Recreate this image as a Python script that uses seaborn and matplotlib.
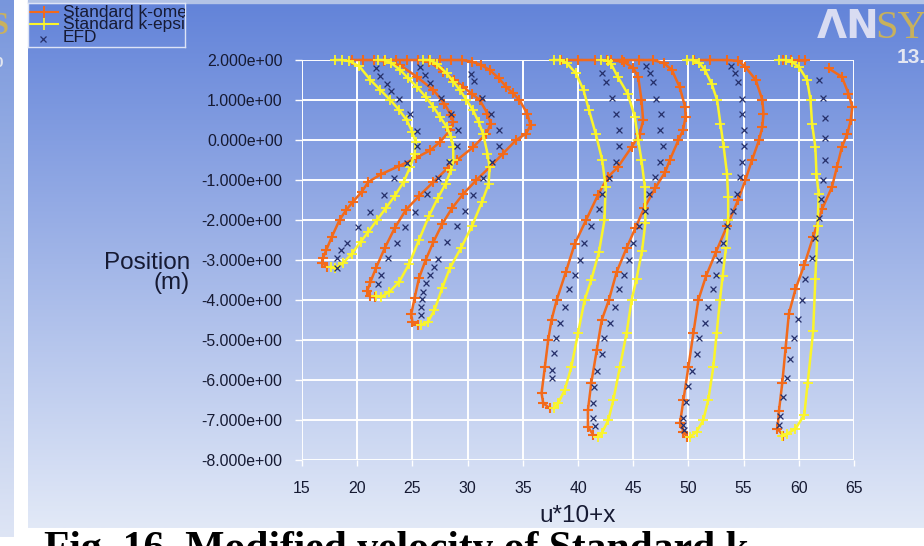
import numpy as np
import pandas as pd
import seaborn as sns
import matplotlib
matplotlib.use("Agg")
from matplotlib import pyplot as plt
from matplotlib.ticker import FormatStrFormatter
from matplotlib.patches import Rectangle

# ---- data: (u*10+x, position) for each station ----
k_omega = {
    "p1": ([19.5, 20.5, 21.5, 22.4, 23.9, 25.4, 26.9, 27.9, 28.5, 28.7, 28.4, 27.5, 26.6, 25.3, 23.8,
            22.2, 21.0, 20.4, 19.6, 19.0, 18.4, 17.7, 17.2, 16.9, 16.85, 17.3],
           [2.0, 2.0, 2.0, 1.97, 1.87, 1.58, 1.25, 0.91, 0.62, 0.45, 0.24, -0.05, -0.26, -0.45, -0.65,
            -0.85, -1.05, -1.3, -1.55, -1.75, -2.0, -2.42, -2.75, -2.95, -3.08, -3.17]),
    "p2": ([22.5, 23.5, 24.5, 25.5, 26.5, 27.8, 28.8, 29.6, 30.4, 31.1, 31.8, 32.1, 31.7, 30.5, 29.0,
            28.2, 26.9, 25.6, 24.4, 23.4, 22.5, 21.7, 21.2, 20.9, 21.2, 21.6],
           [2.0, 2.0, 2.0, 2.0, 1.96, 1.71, 1.5, 1.33, 1.15, 1.0, 0.66, 0.41, 0.16, -0.18, -0.51,
            -0.7, -1.05, -1.4, -1.75, -2.2, -2.7, -3.2, -3.55, -3.78, -3.9, -3.93]),
    "p3": ([26.5, 27.5, 28.5, 29.5, 30.4, 31.2, 32.0, 32.8, 33.5, 34.1, 34.7, 35.4, 35.7, 35.3, 34.4,
            33.2, 32.0, 30.8, 29.6, 28.6, 27.7, 26.9, 26.2, 25.6, 25.2, 24.9, 25.0, 25.5],
           [2.0, 2.0, 2.0, 2.0, 1.96, 1.88, 1.75, 1.55, 1.33, 1.17, 1.0, 0.66, 0.37, 0.16, 0.0,
            -0.34, -0.68, -1.0, -1.35, -1.7, -2.1, -2.55, -3.0, -3.45, -3.95, -4.35, -4.55, -4.62]),
    "p4": ([38.5, 40.0, 41.5, 43.0, 44.2, 45.0, 45.45, 45.75, 45.9, 45.6, 44.85, 43.6, 42.7, 41.8, 40.75,
            39.7, 38.9, 38.07, 37.6, 37.3, 37.0, 36.7, 36.85, 37.46],
           [2.0, 2.0, 2.0, 2.0, 1.95, 1.8, 1.58, 1.0, 0.49, 0.16, -0.18, -0.68, -0.93, -1.38, -1.99,
            -2.6, -3.3, -4.0, -4.5, -5.0, -5.67, -6.33, -6.58, -6.71]),
    "p5": ([42.6, 44.0, 45.5, 46.8, 47.8, 48.5, 49.2, 49.7, 49.75, 49.5, 49.1, 48.3, 47.9, 47.0, 46.0,
            45.2, 44.4, 43.5, 42.8, 42.15, 41.7, 41.2, 40.9, 40.9, 41.4],
           [2.0, 2.0, 2.0, 2.0, 1.92, 1.75, 1.33, 0.83, 0.58, 0.24, 0.0, -0.51, -0.8, -1.2, -1.7,
            -2.2, -2.7, -3.3, -4.0, -4.5, -5.25, -6.08, -6.75, -7.17, -7.38]),
    "p6": ([50.5, 52.0, 53.5, 54.5, 55.15, 56.1, 56.7, 56.8, 56.7, 56.4, 55.75, 55.15, 54.5, 53.5, 52.5,
            51.6, 50.9, 50.45, 50.0, 49.55, 49.24, 49.55, 49.85],
           [2.0, 2.0, 2.0, 1.98, 1.83, 1.5, 1.0, 0.66, 0.33, 0.0, -0.51, -1.01, -1.5, -2.15, -2.8,
            -3.4, -4.0, -4.83, -5.67, -6.5, -7.08, -7.29, -7.42]),
    "p7a": ([58.6, 59.3, 60.0, 60.6], [2.0, 2.0, 2.0, 2.0]),
    "p7b": ([62.7, 63.9, 64.5, 64.85, 64.7, 64.4, 63.9, 63.45, 63.0, 62.1, 61.3, 60.5, 59.7, 59.1, 58.8,
             58.5, 58.2, 58.07, 58.6],
            [1.79, 1.58, 1.16, 0.83, 0.49, 0.16, -0.18, -0.68, -1.18, -1.73, -2.42, -3.12, -3.73, -4.34, -5.21,
             -6.08, -6.78, -7.22, -7.39]),
}

k_eps = {
    "p1": ([18.0, 18.6, 19.3, 20.2, 21.2, 22.1, 23.0, 23.8, 24.5, 25.0, 25.3, 25.2, 24.8, 24.2, 23.4,
            22.6, 21.8, 21.0, 20.3, 19.5, 18.7, 18.0, 17.6],
           [2.0, 2.0, 1.97, 1.84, 1.5, 1.25, 1.0, 0.75, 0.49, 0.2, -0.05, -0.34, -0.67, -1.05, -1.4,
            -1.7, -2.0, -2.3, -2.55, -2.85, -3.08, -3.2, -3.17]),
    "p2": ([21.9, 22.5, 23.1, 23.9, 24.6, 25.4, 26.2, 26.9, 27.5, 28.1, 28.5, 28.7, 28.7, 28.5, 28.0,
            27.3, 26.5, 25.6, 24.7, 23.8, 22.9, 22.2, 21.7],
           [2.0, 2.0, 1.92, 1.75, 1.55, 1.33, 1.08, 0.83, 0.58, 0.33, 0.08, -0.18, -0.51, -0.75, -1.1,
            -1.45, -1.9, -2.5, -3.1, -3.55, -3.8, -3.92, -3.9]),
    "p3": ([26.0, 26.6, 27.2, 28.1, 28.7, 29.3, 29.9, 30.5, 31.0, 31.4, 31.8, 32.0, 31.9, 31.3, 30.4,
            29.4, 28.4, 27.7, 27.0, 26.4, 25.8],
           [2.0, 2.0, 1.9, 1.67, 1.46, 1.25, 1.0, 0.74, 0.45, 0.16, -0.34, -0.68, -1.1, -1.55, -2.15,
            -2.7, -3.2, -3.7, -4.25, -4.55, -4.62]),
    "p4": ([37.8, 38.4, 39.0, 39.8, 40.5, 41.0, 41.6, 42.2, 42.5, 42.4, 41.9, 41.2, 40.6, 40.0, 39.4,
            38.8, 38.2, 37.8],
           [2.0, 2.0, 1.92, 1.67, 1.25, 0.74, 0.16, -0.51, -1.18, -2.0, -2.8, -3.5, -4.0, -4.83, -5.67,
            -6.25, -6.58, -6.71]),
    "p5": ([42.1, 42.7, 43.0, 43.6, 44.5, 45.15, 45.45, 45.75, 46.06, 46.1, 45.8, 45.3, 44.86, 44.4, 43.8,
            43.2, 42.75, 42.15, 41.8],
           [2.0, 1.98, 1.9, 1.58, 1.16, 0.58, 0.0, -0.51, -1.18, -2.08, -2.77, -3.47, -4.0, -4.83, -5.67,
            -6.5, -7.0, -7.33, -7.42]),
    "p6": ([49.85, 50.4, 51.0, 51.5, 52.1, 52.6, 52.9, 53.2, 53.5, 53.6, 53.6, 53.4, 53.1, 52.86, 52.56,
            52.26, 51.8, 51.35, 50.75, 50.15],
           [2.0, 2.0, 1.92, 1.75, 1.41, 1.0, 0.41, -0.18, -0.85, -1.43, -2.0, -2.7, -3.4, -4.0, -4.83,
            -5.67, -6.5, -7.0, -7.29, -7.42]),
    "p7": ([58.2, 58.8, 59.4, 60.0, 60.75, 61.06, 61.2, 61.5, 61.6, 61.8, 61.7, 61.5, 61.3, 60.8, 60.5,
            59.7, 58.9, 58.5],
           [2.0, 2.0, 1.95, 1.83, 1.5, 1.0, 0.41, -0.18, -0.85, -1.35, -2.16, -3.47, -4.78, -6.08, -6.87,
            -7.22, -7.35, -7.4]),
}

efd = {
    "p1": ([21.7, 22.1, 22.7, 23.1, 23.8, 24.8, 25.45, 25.45, 24.5, 23.3, 22.4, 21.2, 20.1, 19.1, 18.5,
            18.2, 18.2],
           [1.79, 1.6, 1.41, 1.22, 1.02, 0.64, 0.23, -0.15, -0.57, -0.95, -1.37, -1.79, -2.17, -2.57, -2.75,
            -2.96, -3.21]),
    "p2": ([25.7, 26.1, 26.6, 27.6, 28.5, 29.1, 29.0, 28.3, 27.3, 26.3, 25.2, 24.3, 23.6, 22.8, 22.2, 21.9],
           [1.83, 1.62, 1.43, 1.05, 0.64, 0.26, -0.16, -0.55, -0.95, -1.36, -1.79, -2.17, -2.58, -2.96, -3.38, -3.6]),
    "p3": ([30.3, 30.6, 31.3, 32.1, 32.8, 32.8, 32.2, 31.4, 30.5, 29.8, 29.0, 28.1, 27.3, 27.0, 26.6,
            26.2, 26.0, 25.9, 25.8, 25.75],
           [1.64, 1.47, 1.05, 0.64, 0.26, -0.15, -0.55, -0.95, -1.37, -1.77, -2.16, -2.54, -2.98, -3.18, -3.38,
            -3.58, -3.79, -3.98, -4.17, -4.38]),
    "p4": ([42.2, 42.5, 43.1, 43.4, 43.7, 43.7, 43.4, 42.8, 42.2, 41.9, 41.2, 40.5, 40.2, 39.7, 39.15,
            38.8, 38.4, 38.0, 37.8, 37.6, 37.6],
           [1.67, 1.46, 1.05, 0.64, 0.26, -0.15, -0.55, -0.95, -1.35, -1.73, -2.16, -2.57, -3.0, -3.38, -3.73,
            -4.17, -4.57, -4.96, -5.33, -5.75, -5.96]),
    "p5": ([46.2, 46.5, 46.75, 47.1, 47.5, 47.4, 47.7, 47.4, 47.0, 46.4, 46.1, 45.5, 45.0, 44.6, 44.2,
            43.7, 43.35, 42.9, 42.35, 42.15, 41.7, 41.45, 41.4, 41.4, 41.5],
           [1.85, 1.67, 1.46, 1.02, 0.64, 0.24, -0.15, -0.55, -0.93, -1.36, -1.77, -2.16, -2.57, -3.0, -3.38,
            -3.73, -4.17, -4.57, -4.94, -5.35, -5.77, -6.17, -6.57, -6.96, -7.15]),
    "p6": ([53.9, 54.2, 54.5, 54.9, 54.9, 55.0, 55.0, 54.9, 54.7, 54.4, 54.0, 53.5, 53.1, 52.8, 52.5,
            52.2, 51.8, 51.5, 51.0, 50.75, 50.35, 50.0, 49.8, 49.55, 49.5, 49.6],
           [1.85, 1.67, 1.46, 1.02, 0.64, 0.24, -0.15, -0.55, -0.93, -1.36, -1.77, -2.16, -2.57, -3.0, -3.38,
            -3.73, -4.17, -4.57, -4.96, -5.35, -5.77, -6.15, -6.54, -6.96, -7.13, -7.25]),
    "p7": ([61.8, 62.2, 62.4, 62.4, 62.4, 62.2, 62.05, 61.8, 61.5, 61.2, 60.6, 60.3, 59.9, 59.6, 59.2,
            58.9, 58.6, 58.3, 58.2],
           [1.51, 1.04, 0.54, 0.04, -0.49, -1.01, -1.47, -1.95, -2.45, -2.95, -3.47, -4.0, -4.47, -4.95, -5.47,
            -5.95, -6.43, -6.9, -7.13]),
}

x_ticks = list(range(15, 70, 5))
y_ticks = list(range(-8, 3))
legend_labels = ["Standard k-omega", "Standard k-epsilon", "EFD"]


def to_frame(series):
    rows = []
    for seg, (xs, ys) in series.items():
        for x, y in zip(xs, ys):
            rows.append({"seg": seg, "x": x, "y": y})
    return pd.DataFrame(rows)


df_kw = to_frame(k_omega)
df_ke = to_frame(k_eps)
df_efd = to_frame(efd)

ORANGE = "#f26a1b"
YELLOW = "#fbf52a"
NAVY = "#26306a"
TXT = "#161a33"
W, H = 924, 546

plt.rcParams["font.family"] = ["Liberation Sans", "DejaVu Sans"]

fig = plt.figure(figsize=(W / 100, H / 100), dpi=100, facecolor="white")

# background: the Fluent window with its blue gradient
bg = fig.add_axes([0, 0, 1, 1])
bg.set_xlim(0, W)
bg.set_ylim(H, 0)
bg.axis("off")
top_col = np.array([98, 131, 217]) / 255
bot_col = np.array([226, 233, 247]) / 255
t = np.linspace(0, 1, 256)[:, None]
grad = (top_col[None, :] * (1 - t) + bot_col[None, :] * t)[:, None, :]
bg.imshow(grad, extent=(28, W, 528, 0), aspect="auto", interpolation="bilinear", zorder=0)
grad2 = (np.array([120, 150, 220])[None, :] / 255 * (1 - t) + np.array([222, 229, 245])[None, :] / 255 * t)[:, None, :]
bg.imshow(grad2, extent=(0, 14, 537, 0), aspect="auto", interpolation="bilinear", zorder=0)
bg.add_patch(Rectangle((28, 0), W - 28, 3, color="#b3c3e6", zorder=1))
bg.text(-9, 12, "S", color="#c9b15e", fontsize=22, fontweight="bold", family="Liberation Serif",
        va="top", ha="left", zorder=2)
bg.text(-6, 56, "0", color="#e3e6f0", fontsize=11, fontweight="bold", va="top", ha="left", zorder=2)
# ANSYS logo (cut at the right edge)
bg.text(817, 38, "ΛN", color="#d9dcf2", fontsize=28, fontweight="bold", family="DejaVu Sans",
        va="baseline", ha="left", zorder=2)
bg.text(875, 38, "SYS", color="#c8b15c", fontsize=29, family="Liberation Serif",
        va="baseline", ha="left", zorder=2)
bg.text(897, 63, "13.0", color="#e4e7f2", fontsize=15, fontweight="bold",
        va="baseline", ha="left", zorder=2)
# caption under the screenshot, cut by the bottom edge
bg.text(44, 560, "Fig. 16. Modified velocity of Standard k-", color="black", fontsize=30,
        fontweight="bold", family="Liberation Serif", va="baseline", ha="left", zorder=2)

# main plot axes
ax = fig.add_axes([302 / W, 1 - 460 / H, 552 / W, 400 / H])
ax.set_facecolor("none")
ax.grid(True, color="white", lw=1.4)
ax.set_axisbelow(True)

line_kws = dict(units="seg", estimator=None, sort=False, lw=1.8, marker="+",
                markersize=7.5, legend=False, ax=ax, clip_on=False)
sns.lineplot(data=df_kw, x="x", y="y", color=ORANGE, mec=ORANGE, mew=1.5, **line_kws)
sns.lineplot(data=df_ke, x="x", y="y", color=YELLOW, mec=YELLOW, mew=1.3, **line_kws)
sns.scatterplot(data=df_efd, x="x", y="y", marker="x", color=NAVY, s=18, linewidth=0.9,
                legend=False, ax=ax, zorder=5, clip_on=False)

ax.set_xlim(15, 65)
ax.set_ylim(-8, 2)
ax.set_xticks(x_ticks)
ax.set_yticks(y_ticks)
ax.yaxis.set_major_formatter(FormatStrFormatter("%.3e"))
for s in ax.spines.values():
    s.set_visible(False)
ax.tick_params(axis="y", length=5, width=1, color="white", pad=9, labelsize=11.4, labelcolor=TXT)
ax.tick_params(axis="x", length=4, width=1, color="white", pad=11, labelsize=11.4, labelcolor=TXT)

ax.set_xlabel("u*10+x", fontsize=17.5, color=TXT, va="center")
ax.xaxis.set_label_coords(0.5, -0.14)
ax.set_ylabel("Position\n(m)", fontsize=17.5, color=TXT, rotation=0, ha="right", va="center",
              multialignment="right", linespacing=0.9)
ax.yaxis.set_label_coords(-0.203, 0.468)

# legend box in the top left corner (text is cut by the box edge, as in Fluent)
lg = fig.add_axes([28 / W, 1 - 47 / H, 157 / W, 44 / H])
lg.set_facecolor("none")
lg.set_xlim(0, 157)
lg.set_ylim(44, 0)
lg.set_xticks([])
lg.set_yticks([])
for s in lg.spines.values():
    s.set_color("#dde4f6")
    s.set_linewidth(1)
lg.plot([2, 30], [9, 9], color=ORANGE, lw=1.5)
lg.plot([16], [9], marker="+", color=ORANGE, ms=9, mew=1.4)
lg.plot([2, 30], [21, 21], color=YELLOW, lw=1.5)
lg.plot([16], [21], marker="+", color=YELLOW, ms=9, mew=1.2)
lg.plot([15], [36], marker="x", color=NAVY, ms=4, mew=0.9)
for yy, lab in zip([9, 21, 35], legend_labels):
    lg.text(35, yy, lab, fontsize=12.5, color=TXT, va="center", ha="left", clip_on=True)

fig.savefig("out.png", dpi=100, facecolor="white")
